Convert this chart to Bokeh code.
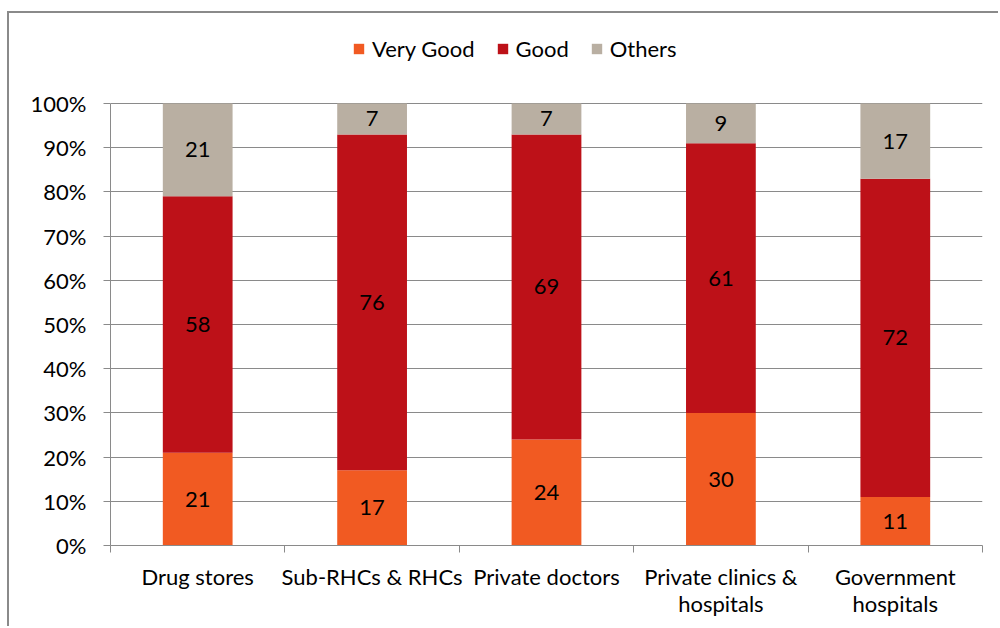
from bokeh.plotting import figure
from bokeh.models import (ColumnDataSource, Range1d, FixedTicker, Legend, LegendItem,
                          NumeralTickFormatter, LabelSet)
from bokeh.core.properties import value
from bokeh.embed import file_html
from bokeh.resources import INLINE

categories = ["Drug stores", "Sub-RHCs & RHCs", "Private doctors",
              "Private clinics &\nhospitals", "Government\nhospitals"]
very_good = [21, 17, 24, 30, 11]
good = [58, 76, 69, 61, 72]
others = [21, 7, 7, 9, 17]
series_names = ["Very Good", "Good", "Others"]
colors = ["#F15A22", "#BD1118", "#B9AFA2"]
y_ticks = [0, 10, 20, 30, 40, 50, 60, 70, 80, 90, 100]

FONT = "Lato"
FS = "22px"

n = len(categories)
xs = [i + 0.5 for i in range(n)]
vg = [v / 100 for v in very_good]
gd = [v / 100 for v in good]
ot = [v / 100 for v in others]
b1 = vg
b2 = [a + b for a, b in zip(vg, gd)]
b3 = [a + b for a, b in zip(b2, ot)]

src = ColumnDataSource(dict(
    x=xs, vg=vg, gd=gd, ot=ot, b1=b1, b2=b2, b3=b3,
    m1=[v / 2 for v in vg],
    m2=[a + g / 2 for a, g in zip(b1, gd)],
    m3=[a + o / 2 for a, o in zip(b2, ot)],
    t1=[str(v) for v in very_good],
    t2=[str(v) for v in good],
    t3=[str(v) for v in others],
))

# plot area: 100% line at 73px below the top of the frame, 442px from 0% to 100%
top_pad_px = 73.0
scale_px = 442.0
y_end = 1 + top_pad_px / scale_px

p = figure(width=991, height=615, output_backend="svg", toolbar_location=None,
           x_range=Range1d(0, n), y_range=Range1d(0, y_end),
           min_border_left=101, min_border_right=18, min_border_top=17, min_border_bottom=83)
p.margin = (11, 0, 0, 7)
p.styles = {"border-left": "2px solid #8a8a8a", "border-top": "2px solid #8a8a8a"}
p.outline_line_color = None
p.background_fill_color = "white"
p.border_fill_color = "white"

w = 0.4
r1 = p.vbar(x="x", bottom=0, top="b1", width=w, source=src, color=colors[0], line_color=None)
r2 = p.vbar(x="x", bottom="b1", top="b2", width=w, source=src, color=colors[1], line_color=None)
r3 = p.vbar(x="x", bottom="b2", top="b3", width=w, source=src, color=colors[2], line_color=None)

for ycol, tcol in (("m1", "t1"), ("m2", "t2"), ("m3", "t3")):
    p.add_layout(LabelSet(x="x", y=ycol, text=tcol, source=src, text_align="center",
                          text_baseline="middle", text_font=value(FONT), text_font_size=FS,
                          text_color="black"))

# grid
p.xgrid.grid_line_color = None
p.ygrid.grid_line_color = "#8a8a8a"
p.ygrid.grid_line_width = 1
p.ygrid.ticker = FixedTicker(ticks=[t / 100 for t in y_ticks])

# y axis
p.yaxis.ticker = FixedTicker(ticks=[t / 100 for t in y_ticks])
p.yaxis.bounds = (0, 1)
p.yaxis.formatter = NumeralTickFormatter(format="0%")
p.yaxis.axis_line_color = "#8a8a8a"
p.yaxis.major_tick_line_color = "#8a8a8a"
p.yaxis.major_tick_out = 7
p.yaxis.major_tick_in = 0
p.yaxis.minor_tick_line_color = None
p.yaxis.major_label_standoff = 17
p.yaxis.major_label_text_font = FONT
p.yaxis.major_label_text_font_size = FS
p.yaxis.major_label_text_color = "black"

# x axis
p.xaxis.ticker = FixedTicker(ticks=xs, minor_ticks=list(range(n + 1)))
p.xaxis.major_label_overrides = {x: c for x, c in zip(xs, categories)}
p.xaxis.axis_line_color = "#8a8a8a"
p.xaxis.major_tick_line_color = None
p.xaxis.major_tick_out = 0
p.xaxis.major_tick_in = 0
p.xaxis.minor_tick_line_color = "#8a8a8a"
p.xaxis.minor_tick_out = 7
p.xaxis.minor_tick_in = 0
p.xaxis.major_label_standoff = 10
p.xaxis.major_label_text_font = FONT
p.xaxis.major_label_text_font_size = FS
p.xaxis.major_label_text_color = "black"
p.xaxis.major_label_text_line_height = 1.0

legend = Legend(items=[LegendItem(label=nm, renderers=[r]) for nm, r in zip(series_names, (r1, r2, r3))],
                orientation="horizontal", location=(242, 483), border_line_color=None,
                background_fill_alpha=0, label_text_font=FONT, label_text_font_size=FS,
                label_text_color="black",
                glyph_width=13, glyph_height=13, label_standoff=7, spacing=21, padding=0, margin=0)
p.add_layout(legend, "center")

open("out.html", "w").write(file_html(p, INLINE))
